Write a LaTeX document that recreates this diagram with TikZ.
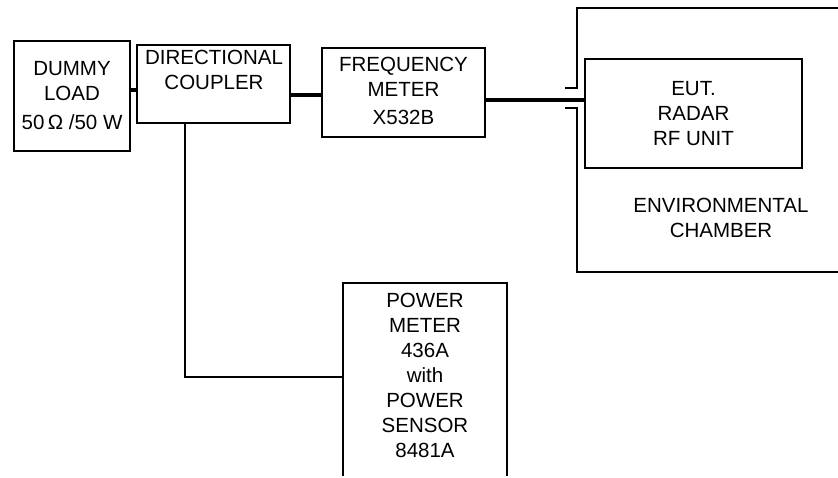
\documentclass[tikz,border=0pt]{standalone}
\usepackage{fontspec}
\setmainfont{Liberation Sans}
\begin{document}
\begin{tikzpicture}[x=1pt,y=-1pt,
  box/.style={draw,line width=1.8pt,inner sep=0pt},
  txt/.style={align=center,inner sep=0pt,font=\fontsize{20.5}{25}\selectfont},
  wire/.style={line width=1.7pt},
  thickwire/.style={line width=3.8pt},
  wall/.style={line width=1.8pt}]
\useasboundingbox (0,0) rectangle (838,477);
% boxes
\node[box,minimum width=116pt,minimum height=110pt] (dummy) at (72,96) {};
\node[txt] (dummytxt) at (72,96) {DUMMY\\LOAD\\[4pt]50\,Ω /50 W};
\node[box,minimum width=153pt,minimum height=78pt] (coupler) at (213.5,84) {};
\node[txt] (couplertxt) at (214,70) {DIRECTIONAL\\COUPLER};
\node[box,minimum width=163pt,minimum height=89pt] (freq) at (403.5,92.5) {};
\node[txt] (freqtxt) at (403.5,91) {FREQUENCY\\METER\\[3pt]X532B};
\node[box,txt,minimum width=217pt,minimum height=109pt] (eut) at (693.5,113.5) {EUT.\\RADAR\\RF UNIT};
\node[txt] (envtxt) at (721,218) {ENVIRONMENTAL\\CHAMBER};
\node[minimum width=164pt,minimum height=193pt] (power) at (425,379.5) {};
\node[txt] (powertxt) at (425,375) {POWER\\METER\\436A\\with\\POWER\\SENSOR\\8481A};
\draw[line width=1.8pt] (power.south west) -- (power.north west) -- (power.north east) -- (power.south east);
% chamber walls
\draw[wall] (565,88) -- (577,88) -- (577,8) -- (838,8);
\draw[wall] (565,108) -- (577,108) -- (577,272) -- (838,272);
% connectors
\draw[thickwire] ([yshift=6pt]dummy.east) coordinate (dl) -- (dl -| coupler.west);
\draw[thickwire] ([yshift=-11pt]coupler.east) coordinate (ce) -- (ce -| freq.west);
\draw[thickwire] ([yshift=-7.5pt]freq.east) coordinate (fe) -- (fe -| eut.west);
\coordinate (bend) at (185,377);
\draw[wire] (coupler.south -| bend) -- (bend) -- (bend -| power.west);
\end{tikzpicture}
\end{document}
